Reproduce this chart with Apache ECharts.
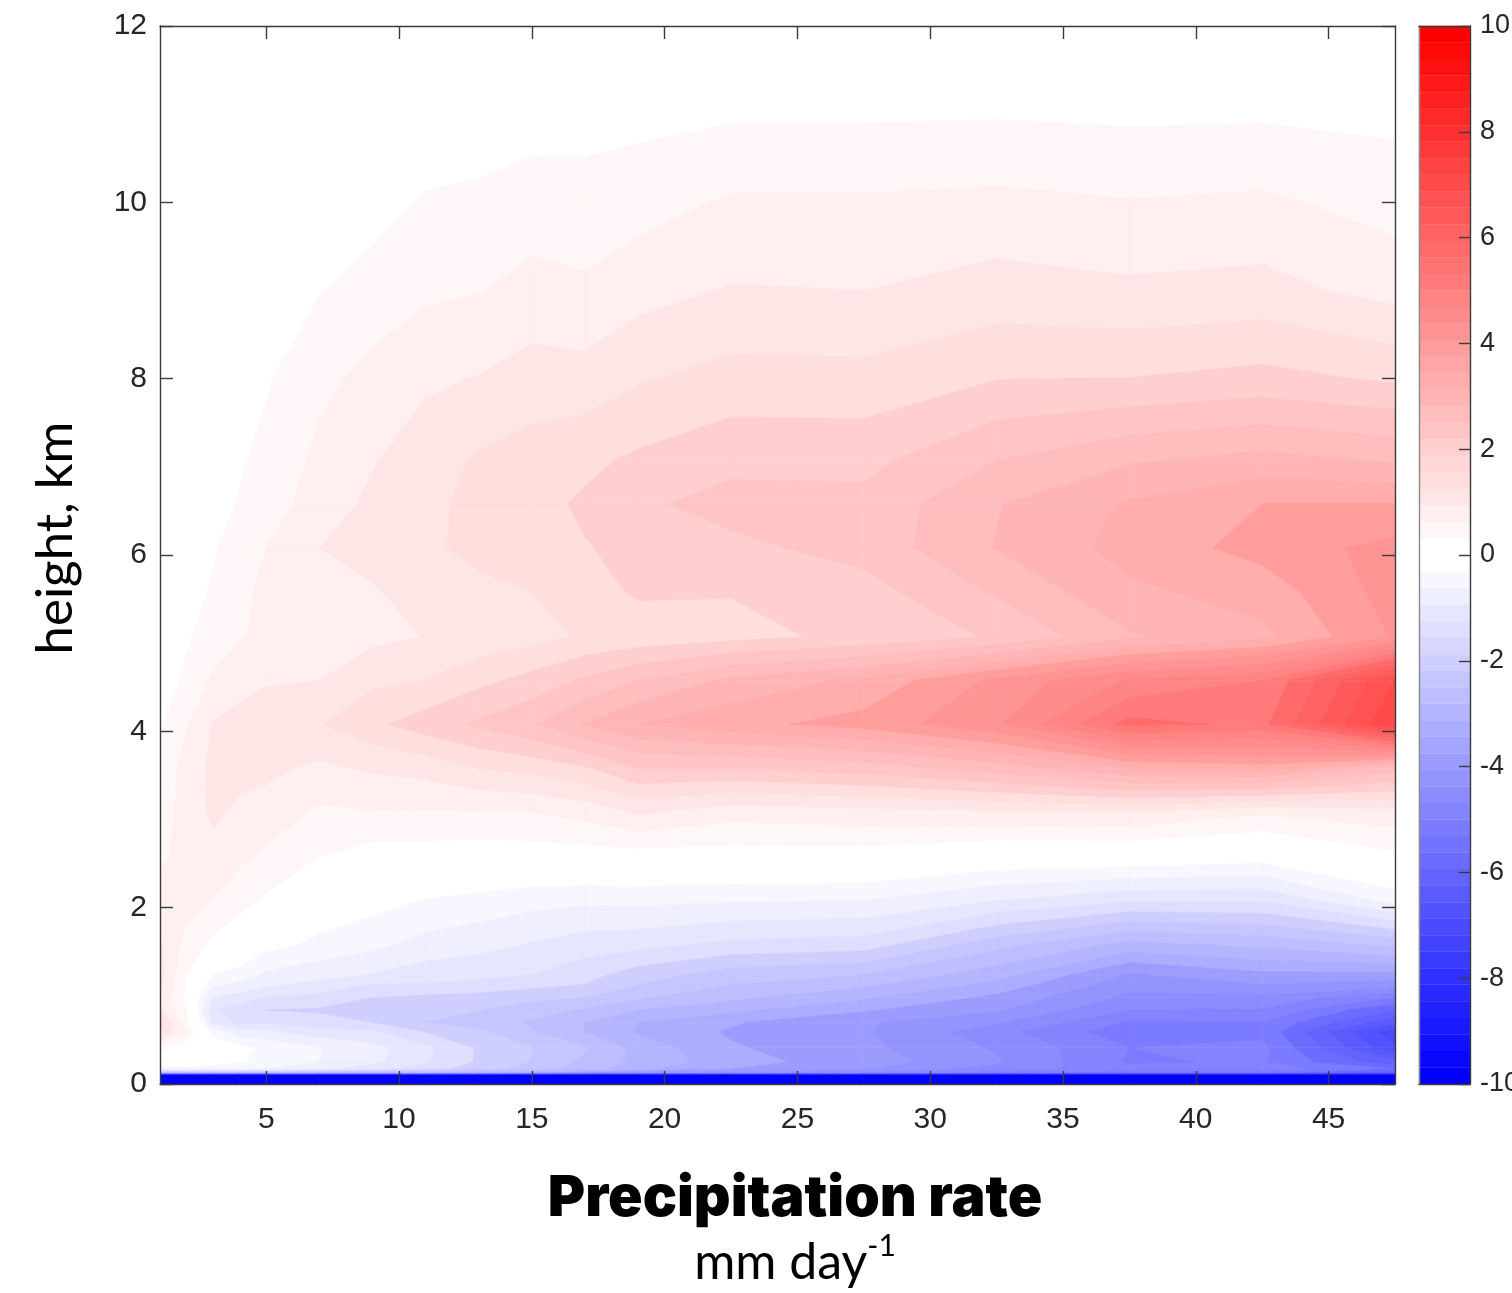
<!DOCTYPE html>
<html>
<head>
<meta charset="utf-8">
<style>html,body{margin:0;padding:0;background:#fff}#c{width:1512px;height:1293px}</style>
<script src="https://cdn.jsdelivr.net/npm/echarts@6/dist/echarts.min.js"></script>
</head>
<body>
<div id="c"></div>
<script>
// Precipitation-rate columns (mm/day)
const precip = [1,2,3,4,5,7,9,11,13,15,17,19,22.5,27.5,32.5,37.5,42.5,47.5];
// Height rows (km), bottom to top
const heights = [0,0.09,0.12,0.17,0.25,0.41,0.59,0.7,0.84,0.98,1.1,1.24,1.58,2.08,2.58,3.08,3.58,4.08,4.58,5.07,5.58,6.08,6.58,7.08,8,9,10,11,12];
// One array per height, values per precipitation column
const h0_00 = [-11,-11,-11,-11,-11,-11,-11,-11,-11,-11,-11,-11,-11,-11,-11,-11,-11,-11];
const h0_09 = [-11,-11,-11,-11,-11,-11,-11,-11,-11,-11,-11,-11,-11,-11,-11,-11,-11,-11];
const h0_12 = [-3,-3,-3,-3,-3,-3.2,-3.2,-3.4,-3.6,-4,-4.4,-4.6,-4.6,-5,-5.6,-6,-6,-7];
const h0_17 = [-0.6,-0.6,-0.6,-0.6,-0.8,-1.1,-1.4,-1.8,-2.2,-2.6,-3,-3.5,-4,-4.4,-5,-5.4,-5.4,-6];
const h0_25 = [0.05,0,-0.15,-0.38,-0.45,-0.8,-1.1,-1.55,-2.05,-2.42,-2.9,-3.3,-3.85,-4.2,-4.75,-5.65,-5.55,-6.7];
const h0_41 = [0.5,0.1,-0.15,-0.32,-0.45,-0.78,-1.05,-1.5,-2.05,-2.38,-2.75,-3.35,-3.95,-4.3,-4.85,-5.6,-5.5,-7.55];
const h0_59 = [1.6,0.8,-0.5,-1,-1.1,-1.42,-1.5,-2,-2.3,-2.75,-3.2,-3.65,-4.05,-4.35,-5.05,-5.85,-5.7,-7.9];
const h0_70 = [1.75,0.55,-1.25,-1.7,-1.65,-1.85,-2,-2.4,-2.58,-2.85,-3.2,-3.6,-3.95,-4.35,-4.75,-5.65,-5.6,-7.1];
const h0_84 = [1.25,0.38,-1.55,-1.8,-2,-2.05,-2.2,-2.3,-2.38,-2.6,-2.85,-3.2,-3.5,-3.95,-4.35,-5.2,-5.25,-6.4];
const h0_98 = [1.15,0.3,-1.2,-1.35,-1.62,-1.72,-2,-2.1,-2.15,-2.3,-2.4,-2.75,-3.1,-3.55,-4.1,-4.9,-4.9,-5.6];
const h1_10 = [1.25,0.37,-0.8,-1,-1.2,-1.4,-1.7,-1.68,-1.8,-1.95,-2.05,-2.45,-2.85,-3.2,-3.8,-4.7,-4.5,-4.75];
const h1_24 = [1.35,0.4,-0.4,-0.55,-0.88,-1.05,-1.22,-1.4,-1.47,-1.6,-1.85,-2.2,-2.6,-2.8,-3.45,-4.45,-4.1,-4.1];
const h1_58 = [1.25,0.65,0.3,0.05,-0.25,-0.5,-0.68,-0.95,-1.07,-1.23,-1.4,-1.47,-1.7,-1.8,-2.65,-3.35,-3.1,-2.7];
const h2_08 = [0.95,0.98,0.78,0.55,0.33,-0.1,-0.25,-0.42,-0.53,-0.66,-0.72,-0.7,-0.76,-0.8,-1.2,-1.55,-1.56,-0.65];
const h2_58 = [0.72,0.95,1.08,0.88,0.73,0.4,0.22,0.2,0.15,0.18,0.2,0.2,0.2,0.2,-0.05,-0.05,-0.2,0.3];
const h3_08 = [0.55,1,1.27,1.13,1.02,0.73,0.77,0.77,0.78,0.8,0.95,1.25,0.96,1.05,1.15,1.2,0.85,1.05];
const h3_58 = [0.45,1,1.28,1.3,1.3,1.12,1.25,1.36,1.6,1.73,1.95,2.4,2.4,2.6,3,3.6,3.8,3];
const h4_08 = [0.35,0.77,1.23,1.33,1.39,1.57,1.91,2.2,2.47,2.75,3.23,3.6,3.88,4.15,4.75,6.15,5.9,8];
const h4_58 = [0.22,0.46,0.86,1.07,1.17,1.2,1.52,1.6,1.89,2.14,2.47,2.8,3.3,3.7,4.5,5.25,5.6,7.63];
const h5_07 = [0.2,0.36,0.55,0.78,0.85,1,1.1,1.21,1.33,1.47,1.65,1.75,1.88,2.1,2.45,3.15,3.5,4.45];
const h5_58 = [0.16,0.26,0.44,0.72,0.88,1.03,1.16,1.37,1.5,1.6,1.82,2.06,2.02,2.24,2.85,3.52,3.77,4.58];
const h6_08 = [0.1,0.22,0.36,0.62,0.8,1.2,1.35,1.53,1.7,1.82,1.98,2.1,2.3,2.55,3.22,3.75,4.15,4.55];
const h6_58 = [0.05,0.18,0.3,0.42,0.6,1,1.28,1.5,1.72,1.88,2.06,2.33,2.55,2.52,3.18,3.65,4,4];
const h7_08 = [0.02,0.12,0.24,0.36,0.5,0.9,1.17,1.42,1.65,1.78,1.91,2.07,2.28,2.28,2.8,3.15,3.33,3.15];
const h8_00 = [0,0.05,0.1,0.18,0.36,0.7,0.92,1.13,1.22,1.37,1.35,1.56,1.75,1.73,1.99,2.01,2.13,1.94];
const h9_00 = [0,0.01,0.02,0.05,0.1,0.38,0.58,0.73,0.78,0.94,0.87,1.05,1.23,1.2,1.37,1.28,1.34,1.05];
const h10_0 = [0,0,0,0.01,0.02,0.1,0.23,0.44,0.48,0.58,0.55,0.64,0.85,0.85,0.9,0.82,0.87,0.64];
const h11_0 = [0,0,0,0,0,0.02,0.05,0.13,0.18,0.24,0.26,0.28,0.35,0.35,0.37,0.33,0.35,0.3];
const h12_0 = [0,0,0,0,0,0,0,0,0,0,0,0,0,0,0,0,0,0];
const field = [h0_00,h0_09,h0_12,h0_17,h0_25,h0_41,h0_59,h0_70,h0_84,h0_98,h1_10,h1_24,h1_58,h2_08,h2_58,h3_08,h3_58,h4_08,h4_58,h5_07,h5_58,h6_08,h6_58,h7_08,h8_00,h9_00,h10_0,h11_0,h12_0];

const xTicks = [5,10,15,20,25,30,35,40,45];
const contourStep = 0.4;
const maxBand = 30;
const colormapSteps = 32;
const colormapWidth = 0.3125;
const bandColorStep = 0.375;

function colormap(v){
  const i = Math.floor(Math.abs(v)/colormapWidth + 1e-9);
  const t = Math.min(1, i/(colormapSteps-1));
  const c = Math.round(255*(1-t));
  return v >= 0 ? `rgb(255,${c},${c})` : `rgb(${c},${c},255)`;
}

// Clip a polygon [x,y,v] to the half-space sign*(v-level) >= 0
function clip(poly, level, sign){
  const out = [];
  for (let i=0;i<poly.length;i++){
    const a = poly[i], b = poly[(i+1)%poly.length];
    const da = sign*(a[2]-level), db = sign*(b[2]-level);
    if (da >= 0) out.push(a);
    if ((da >= 0) !== (db >= 0)){
      const t = da/(da-db);
      out.push([a[0]+t*(b[0]-a[0]), a[1]+t*(b[1]-a[1]), level]);
    }
  }
  return out;
}

// Filled bands built from the field: each band holds its clipped cell polygons
const bands = [];
for (let m=1;m<=maxBand;m++){
  [1,-1].forEach(s=>{
    const lo = s>0 ? m*contourStep : -(m+1)*contourStep;
    const hi = s>0 ? (m+1)*contourStep : -m*contourStep;
    const polys = [];
    for (let r=0;r<heights.length-1;r++){
      for (let c=0;c<precip.length-1;c++){
        let q = [
          [precip[c],heights[r],field[r][c]],
          [precip[c+1],heights[r],field[r][c+1]],
          [precip[c+1],heights[r+1],field[r+1][c+1]],
          [precip[c],heights[r+1],field[r+1][c]]
        ];
        q = clip(q, lo, 1);
        if (q.length>2) q = clip(q, hi, -1);
        if (q.length>2) polys.push(q);
      }
    }
    if (polys.length) bands.push({color: colormap(s*m*bandColorStep), polys});
  });
}

const colorbarCells = [];
for (let i=0;i<colormapSteps*2;i++){
  const low = -10 + i*colormapWidth;
  colorbarCells.push([0, low, low+colormapWidth, low+colormapWidth/2]);
}

const LINE = '#3a3a3a', TEXT = '#262626', LABEL = 'Liberation Sans';
const line = {show:true, onZero:false, lineStyle:{color:LINE, width:1.4}};
const tick = (len)=>({show:true, inside:true, length:len, lineStyle:{color:LINE, width:1.4}});

const chart = echarts.init(document.getElementById('c'), null, {renderer:'canvas'});
chart.setOption({
  animation:false,
  backgroundColor:'#fff',
  grid:[
    {left:160, right:117, top:26, bottom:209, outerBoundsMode:'none'},
    {left:1419, right:42, top:26, bottom:209, outerBoundsMode:'none'}
  ],
  xAxis:[
    {type:'value', gridIndex:0, position:'bottom', min:1, max:47.5, z:10, axisLine:line, splitLine:{show:false},
     axisTick:{...tick(13), customValues:xTicks},
     axisLabel:{customValues:xTicks, color:TEXT, fontFamily:LABEL, fontSize:30, margin:21},
     name:'{a|Precipitation rate}\n{b|mm day}{c|-1}', nameLocation:'middle', nameGap:83,
     nameTextStyle:{padding:[0,0,0,35], lineHeight:64, rich:{
       a:{fontFamily:'Inter', fontWeight:900, fontSize:57, color:'#000', lineHeight:64},
       b:{fontFamily:'Lato', fontSize:50, color:'#000', lineHeight:64},
       c:{fontFamily:'Lato', fontSize:30, color:'#000', verticalAlign:'top', lineHeight:64, padding:[0,0,14,0]}
     }}},
    {type:'value', gridIndex:0, position:'top', min:1, max:47.5, z:10, axisLine:line, splitLine:{show:false},
     axisTick:{...tick(13), customValues:xTicks}, axisLabel:{show:false}},
    {type:'value', gridIndex:1, position:'bottom', min:0, max:1, z:10, axisLine:line, splitLine:{show:false}, axisTick:{show:false}, axisLabel:{show:false}},
    {type:'value', gridIndex:1, position:'top', min:0, max:1, z:10, axisLine:line, splitLine:{show:false}, axisTick:{show:false}, axisLabel:{show:false}}
  ],
  yAxis:[
    {type:'value', gridIndex:0, position:'left', min:0, max:12, interval:2, z:10, axisLine:line, splitLine:{show:false},
     axisTick:tick(13), axisLabel:{color:TEXT, fontFamily:LABEL, fontSize:30, margin:13, padding:[5,0,0,0]},
     name:'height, km', nameLocation:'middle', nameGap:79, nameRotate:90,
     nameTextStyle:{fontFamily:'Lato', fontSize:51, color:'#000', padding:[0,0,0,34]}},
    {type:'value', gridIndex:0, position:'right', min:0, max:12, interval:2, z:10, axisLine:line, splitLine:{show:false},
     axisTick:tick(13), axisLabel:{show:false}},
    {type:'value', gridIndex:1, position:'right', min:-10, max:10, interval:2, z:10, axisLine:line, splitLine:{show:false},
     axisTick:tick(11), axisLabel:{color:TEXT, fontFamily:LABEL, fontSize:27, margin:10, padding:[6,0,0,0]}},
    {type:'value', gridIndex:1, position:'left', min:-10, max:10, interval:2, z:10,
     axisLine:{show:true, onZero:false, lineStyle:{color:'#8a8a8a', width:1.4}}, splitLine:{show:false}, axisTick:{show:false}, axisLabel:{show:false}}
  ],
  series:[
    {
      type:'custom', name:'contours', coordinateSystem:'cartesian2d', xAxisIndex:0, yAxisIndex:0,
      clip:true, silent:true, z:2,
      encode:{x:0, y:1},
      data: bands.map((b,i)=>[precip[0], heights[0], i]),
      renderItem:(params, api)=>{
        const b = bands[params.dataIndex];
        return {type:'group', children:b.polys.map(p=>({
          type:'polygon', silent:true,
          shape:{points:p.map(v=>api.coord([v[0],v[1]]))},
          style:{fill:b.color, stroke:b.color, lineWidth:0.6}
        }))};
      }
    },
    {
      type:'custom', name:'colorbar', coordinateSystem:'cartesian2d', xAxisIndex:2, yAxisIndex:2,
      silent:true, z:2,
      encode:{x:0, y:3},
      data: colorbarCells,
      renderItem:(params, api)=>{
        const a = api.coord([0, api.value(1)]);
        const b = api.coord([1, api.value(2)]);
        const col = colormap(api.value(3));
        return {type:'rect', shape:{x:a[0], y:b[1], width:b[0]-a[0], height:a[1]-b[1]},
                style:{fill:col, stroke:col, lineWidth:0.3}};
      }
    }
  ]
});
</script>
</body>
</html>
